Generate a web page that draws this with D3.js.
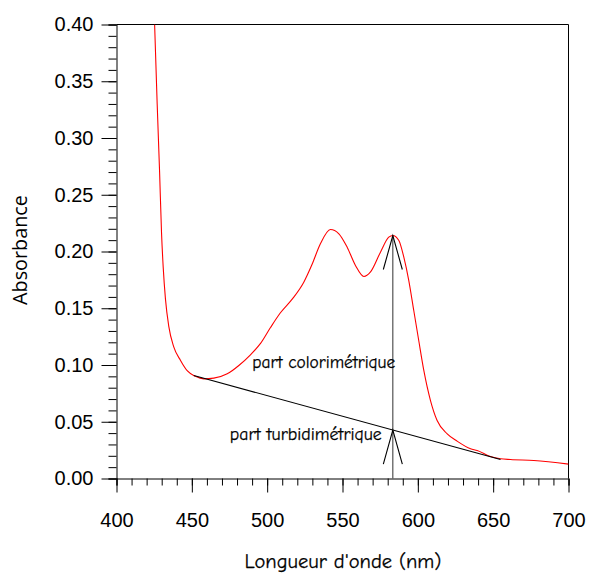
<!DOCTYPE html>
<html><head><meta charset="utf-8">
<script src="https://cdn.jsdelivr.net/npm/d3@7"></script>
<style>
html,body{margin:0;padding:0;background:#fff;}
svg{display:block;}
</style></head>
<body>
<svg id="chart" width="590" height="575"></svg>
<script>
// ---- data ----
const wavelengths = [425.3,427.0,428.6,429.9,431.0,432.5,434.7,438.0,442.5,446.9,452.4,457.9,464.6,473.5,481.2,488.9,495.6,502.2,508.8,516.6,524.3,529.9,535.4,542.0,547.6,553.1,558.6,564.2,568.6,575.2,580.7,583.4,587.4,590.7,594.0,597.3,600.6,604.0,608.4,612.8,619.5,626.1,635.0,639.4,648.2,654.9,661.5,677.0,700.0];
const absorbance  = [0.400,0.330,0.270,0.216,0.186,0.158,0.134,0.116,0.104,0.095,0.090,0.0878,0.0884,0.0922,0.0996,0.109,0.119,0.133,0.1460,0.158,0.173,0.189,0.207,0.2194,0.2156,0.2038,0.1877,0.178,0.182,0.1994,0.2126,0.2141,0.2097,0.195,0.1744,0.148,0.1216,0.095,0.0687,0.0511,0.0394,0.0329,0.0262,0.0247,0.0194,0.0174,0.0167,0.0159,0.0127];
const baselineX = [451.3, 654.9];
const baselineY = [0.0907, 0.0167];
const peakX = 583.4;
const peakY = 0.2141;
const xTicks = [400,450,500,550,600,650,700];
const yTicks = [0.00,0.05,0.10,0.15,0.20,0.25,0.30,0.35,0.40];
const labels = ["part colorimétrique","part turbidimétrique"];
const xTitle = "Longueur d'onde (nm)";
const yTitle = "Absorbance";

// ---- layout ----
const L=116.5, R=568.5, T=24.5, B=478.5;
const svg = d3.select("#chart");
const x = d3.scaleLinear().domain([400,700]).range([L,R]);
const y = d3.scaleLinear().domain([0,0.40]).range([B,T]);
const comic = "'Comic Sans MS','Comic Neue','Lato','DejaVu Sans',sans-serif";
const sans = "'Liberation Sans',Arial,sans-serif";

function fit(sel, target){
  const w = sel.node().getComputedTextLength();
  const fs = parseFloat(sel.attr("font-size"));
  sel.attr("font-size", (fs*target/w).toFixed(2));
}

// frame
svg.append("line").attr("x1",L).attr("x2",R).attr("y1",T).attr("y2",T).attr("stroke","#000");
svg.append("line").attr("x1",R).attr("x2",R).attr("y1",T).attr("y2",B).attr("stroke","#000");

// x axis
const xAxis = svg.append("g").attr("transform",`translate(0,${B})`)
  .call(d3.axisBottom(x).tickValues(d3.range(400,701,10)).tickSize(7).tickFormat(""));
xAxis.select(".domain").attr("stroke","#000");
xAxis.selectAll(".tick line").attr("stroke","#000");
const xMaj = svg.append("g").attr("transform",`translate(0,${B})`)
  .call(d3.axisBottom(x).tickValues(xTicks).tickSize(14).tickPadding(20).tickFormat(d3.format("d")));
xMaj.select(".domain").remove();
xMaj.selectAll(".tick line").attr("stroke","#000");
xMaj.selectAll("text").attr("font-family",sans).attr("font-size",20).attr("fill","#000");

// y axis
const yAxis = svg.append("g").attr("transform",`translate(${L},0)`)
  .call(d3.axisLeft(y).tickValues(d3.range(0,41).map(i=>i/100)).tickSize(8).tickFormat(""));
yAxis.select(".domain").attr("stroke","#000");
yAxis.selectAll(".tick line").attr("stroke","#000");
const yMaj = svg.append("g").attr("transform",`translate(${L},0)`)
  .call(d3.axisLeft(y).tickValues(yTicks).tickSize(15).tickPadding(8).tickFormat(d3.format(".2f")));
yMaj.select(".domain").remove();
yMaj.selectAll(".tick line").attr("stroke","#000");
yMaj.selectAll("text").attr("font-family",sans).attr("font-size",20).attr("fill","#000");

// clip
svg.append("clipPath").attr("id","clip").append("rect").attr("x",L).attr("y",T).attr("width",R-L).attr("height",B-T);

// curve
const pts = wavelengths.map((w,i)=>[w,absorbance[i]]);
svg.append("path").datum(pts).attr("clip-path","url(#clip)")
  .attr("fill","none").attr("stroke","#ff0000").attr("stroke-width",1.1)
  .attr("d", d3.line().x(d=>x(d[0])).y(d=>y(d[1])).curve(d3.curveMonotoneX));

// baseline
svg.append("line").attr("x1",x(baselineX[0])).attr("y1",y(baselineY[0]))
  .attr("x2",x(baselineX[1])).attr("y2",y(baselineY[1])).attr("stroke","#000").attr("stroke-width",1.1);

// vertical arrow line
const baseAtPeak = baselineY[0] + (peakX-baselineX[0])*(baselineY[1]-baselineY[0])/(baselineX[1]-baselineX[0]);
const px = x(peakX);
svg.append("line").attr("x1",px).attr("x2",px).attr("y1",y(0)).attr("y2",y(peakY)).attr("stroke","#444").attr("stroke-width",1.1);
function arrowHead(tipY){
  const ty = y(tipY);
  svg.append("path").attr("d",`M${px-9.5},${ty+34}L${px},${ty}L${px+9.5},${ty+34}`)
    .attr("fill","none").attr("stroke","#000").attr("stroke-width",1.1);
}
arrowHead(peakY);
arrowHead(baseAtPeak);

// labels
const l1 = svg.append("text").attr("x",x(490.1)).attr("y",y(0.0975)).attr("font-family",comic)
  .attr("font-size",14).attr("fill","#000").attr("stroke","#000").attr("stroke-width",0.25).text(labels[0]);
fit(l1,143);
const l2 = svg.append("text").attr("x",x(475.2)).attr("y",y(0.0335)).attr("font-family",comic)
  .attr("font-size",14).attr("fill","#000").attr("stroke","#000").attr("stroke-width",0.25).text(labels[1]);
fit(l2,152);

// axis titles
const xt = svg.append("text").attr("x",343).attr("y",568).attr("text-anchor","middle")
  .attr("font-family",comic).attr("font-size",18).attr("fill","#000").attr("stroke","#000").attr("stroke-width",0.25).text(xTitle);
fit(xt,197);
const yt = svg.append("text").attr("transform","translate(27,250) rotate(-90)").attr("text-anchor","middle")
  .attr("font-family","'Open Sans','DejaVu Sans',sans-serif").attr("font-size",18).attr("fill","#000").text(yTitle);
fit(yt,110);
</script>
</body></html>
